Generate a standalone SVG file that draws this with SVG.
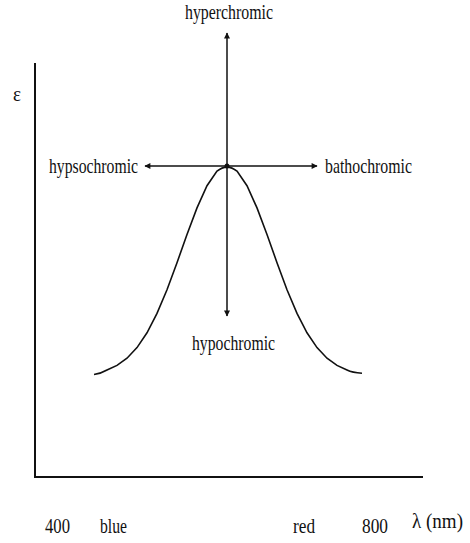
<svg xmlns="http://www.w3.org/2000/svg" width="470" height="543" viewBox="0 0 470 543">
<style>
text{font-family:"Liberation Serif","Times New Roman",serif;font-size:22px;fill:#111}
.ax{stroke:#111;stroke-width:2;fill:none}
.ar{stroke:#111;stroke-width:1.5;fill:none}
.cv{stroke:#111;stroke-width:1.6;fill:none}
</style>
<defs>
<marker id="ah" viewBox="0 0 10 10" refX="9" refY="5" markerWidth="9" markerHeight="6" orient="auto" markerUnits="userSpaceOnUse">
<path d="M0,0 L10,5 L0,10 z" fill="#111"/>
</marker>
</defs>
<rect width="470" height="543" fill="#fff"/>
<g id="axes">
<path class="ax" d="M35,63 V477 H423"/>
</g>
<g id="curve">
<path class="cv" d="M94,374.5 C100,373.5 104,371.8 107,370 L117,365.4 L127,358.2 L137,347.6 L147,332.8 L157,313.4 L167,289.7 L177,262.7 L187,234.5 L197,207.9 L207,185.7 L217,171.1 Q227,163 237,171.1 L247,185.7 L257,207.9 L267,234.5 L277,262.7 L287,289.7 L297,313.4 L307,332.8 L317,347.6 L327,358.2 L337,365.4 L347,370 C350,371.5 355,372.8 362,373.2"/>
<circle cx="227" cy="166" r="2.5" fill="#111"/>
</g>
<g id="connectors">
<line class="ar" x1="227" y1="166" x2="227" y2="33" marker-end="url(#ah)"/>
<line class="ar" x1="227" y1="166" x2="227" y2="316" marker-end="url(#ah)"/>
<line class="ar" x1="227" y1="166" x2="145" y2="166" marker-end="url(#ah)"/>
<line class="ar" x1="227" y1="166" x2="317" y2="166" marker-end="url(#ah)"/>
</g>
<g id="hyperchromic"><text x="185" y="19" textLength="88" lengthAdjust="spacingAndGlyphs">hyperchromic</text></g>
<g id="hypsochromic"><text x="49" y="173" textLength="89" lengthAdjust="spacingAndGlyphs">hypsochromic</text></g>
<g id="bathochromic"><text x="325" y="173" textLength="87" lengthAdjust="spacingAndGlyphs">bathochromic</text></g>
<g id="hypochromic"><text x="192" y="350" textLength="83" lengthAdjust="spacingAndGlyphs">hypochromic</text></g>
<g id="labels">
<text x="13" y="101" textLength="8" lengthAdjust="spacingAndGlyphs">ε</text>
<text x="45" y="533" textLength="25" lengthAdjust="spacingAndGlyphs">400</text>
<text x="100" y="533" textLength="27" lengthAdjust="spacingAndGlyphs">blue</text>
<text x="293" y="533" textLength="22" lengthAdjust="spacingAndGlyphs">red</text>
<text x="362" y="533" textLength="26" lengthAdjust="spacingAndGlyphs">800</text>
<text x="412" y="528" textLength="51" lengthAdjust="spacingAndGlyphs">λ (nm)</text>
</g>
</svg>
